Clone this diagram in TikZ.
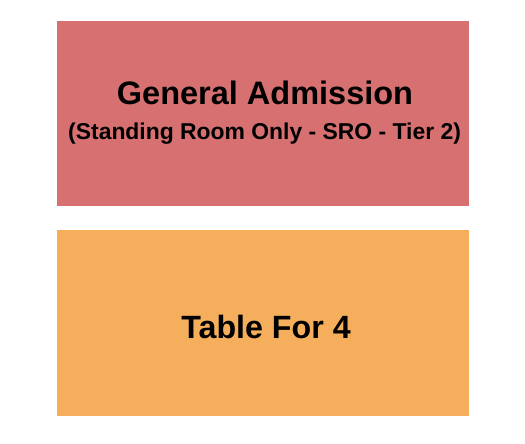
\documentclass[tikz,border=0pt]{standalone}
\usepackage{fontspec}
\setmainfont{Liberation Sans}
\definecolor{gacol}{HTML}{D77070}
\definecolor{tabcol}{HTML}{F4AE5C}
\begin{document}
\begin{tikzpicture}[x=1pt,y=-1pt,
  bigtxt/.style={anchor=base,inner sep=0pt,font=\fontsize{32.5}{38}\selectfont\bfseries},
  tabtxt/.style={anchor=base,inner sep=0pt,font=\fontsize{32.2}{38}\selectfont\bfseries},
  smalltxt/.style={anchor=base,inner sep=0pt,font=\fontsize{22.9}{26}\selectfont\bfseries}]
\useasboundingbox (0,0) rectangle (525,444);
\fill[gacol] (57,21) rectangle (469,205.5) coordinate (gaBR);
\fill[tabcol] (57,230) rectangle (469,415.5) coordinate (tabBR);
\node[bigtxt] (ga) at (265,104.5) {General Admission};
\node[smalltxt] (sro) at (264.6,139.5) {(Standing Room Only - SRO - Tier 2)};
\node[tabtxt] (tab) at (266,338.5) {Table For 4};
\end{tikzpicture}
\end{document}
